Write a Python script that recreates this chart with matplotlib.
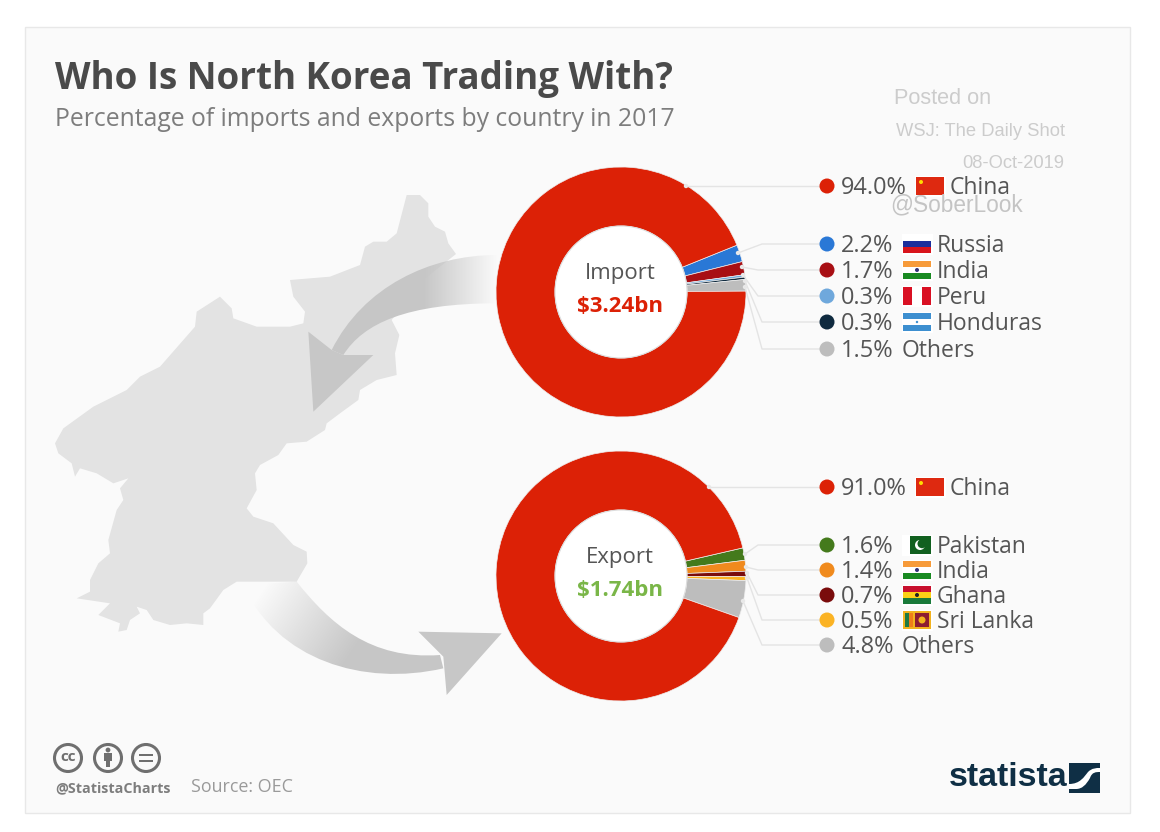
import numpy as np
import matplotlib
matplotlib.use('Agg')
import matplotlib.pyplot as plt
from matplotlib.patches import Rectangle, Circle, Polygon, PathPatch
from matplotlib.path import Path

W, H = 1160, 832

# data
import_labels = ['Russia', 'India', 'Peru', 'Honduras', 'Others', 'China']
import_values = [2.2, 1.7, 0.3, 0.3, 1.5, 94.0]
import_colors = ['#2a78d6', '#a80f14', '#6fa8dc', '#0f2a3f', '#bdbdbd', '#dc2106']
export_labels = ['Pakistan', 'India', 'Ghana', 'Sri Lanka', 'Others', 'China']
export_values = [1.6, 1.4, 0.7, 0.5, 4.8, 91.0]
export_colors = ['#447a1c', '#f08a1d', '#7a0c0c', '#fbb324', '#bdbdbd', '#dc2106']

# legend rows, top to bottom
import_rows = ['China', 'Russia', 'India', 'Peru', 'Honduras', 'Others']
export_rows = ['China', 'Pakistan', 'India', 'Ghana', 'Sri Lanka', 'Others']
import_row_y = [186, 244, 270, 296, 322, 349]
export_row_y = [487, 545, 570, 595, 620, 645]
# where the leader lines leave the ring and where they bend
import_leads = [(686, 186, 686), (738, 253, 762), (742, 267, 758), (743, 275, 758), (745, 281, 762), (745, 287, 762)]
export_leads = [(709, 487, 709), (745, 554, 758), (746, 567, 758), (747, 573, 758), (747, 578, 762), (743, 601, 762)]

# map outline, in pixels of the zoomed crop (3x, offset 30,180)
map_outline = [(1130,45),(1170,45),(1195,70),(1195,110),(1215,140),(1245,155),(1255,190),(1278,222),
    (1180,300),(1085,420),(1108,465),(1095,520),(1100,585),(1040,600),(990,630),(985,660),(930,700),
    (890,730),(885,750),(830,785),(770,790),(745,825),(690,855),(675,880),(680,930),(650,985),(670,1010),
    (730,1030),(790,1095),(830,1115),(832,1150),(800,1205),(620,1205),(580,1230),(540,1285),(520,1300),
    (520,1335),(470,1330),(420,1335),(370,1320),(350,1290),(320,1280),(330,1300),(300,1320),(290,1350),
    (265,1355),(270,1330),(205,1305),(240,1270),(140,1255),(180,1235),(180,1200),(205,1150),(240,1120),
    (235,1080),(260,990),(280,960),(270,925),(295,895),(250,910),(200,880),(150,865),(135,890),(125,850),
    (85,820),(75,790),(100,745),(190,680),(290,630),(330,590),(390,560),(495,440),(500,395),(570,350),
    (605,385),(610,415),(680,440),(780,440),(820,430),(825,395),(790,350),(780,300),(900,290),(990,255),
    (1005,200),(1030,185),(1070,185),(1100,160)]

plt.rcParams['font.family'] = ['Open Sans', 'DejaVu Sans']

TEXT = '#555555'
BG = '#fafafa'
MAPC = '#e3e3e3'
ARROW = (0.78, 0.78, 0.78)

fig = plt.figure(figsize=(W / 100, H / 100), dpi=100, facecolor='white')


def pixel_axes(z):
    a = fig.add_axes([0, 0, 1, 1], zorder=z)
    a.set_xlim(0, W)
    a.set_ylim(H, 0)
    a.axis('off')
    a.patch.set_alpha(0)
    return a


def zoomed(pts):
    return [(x / 3 + 30, y / 3 + 180) for x, y in pts]


def gradient_shape(ax, path, p0, p1):
    """grey fill that fades in from p0 to p1, clipped to path"""
    xs, ys = np.meshgrid(np.arange(0, W), np.arange(0, H))
    d = np.array(p1) - np.array(p0)
    t = ((xs - p0[0]) * d[0] + (ys - p0[1]) * d[1]) / (d ** 2).sum()
    rgba = np.zeros((H, W, 4))
    rgba[..., 0], rgba[..., 1], rgba[..., 2] = ARROW
    rgba[..., 3] = np.clip(t, 0, 1)
    im = ax.imshow(rgba, extent=(0, W, H, 0), aspect='auto', zorder=3)
    patch = PathPatch(path, transform=ax.transData, fc='none', ec='none')
    ax.add_patch(patch)
    im.set_clip_path(patch)
    ax.set_xlim(0, W)
    ax.set_ylim(H, 0)


def bent_arrow(a, b, c, d, e, f, g, h):
    pts = zoomed([a, b, c, d, e, f, g, h])
    codes = [Path.MOVETO, Path.CURVE4, Path.CURVE4, Path.CURVE4, Path.LINETO, Path.CURVE4, Path.CURVE4, Path.CURVE4]
    return Path(pts + [pts[0]], codes + [Path.CLOSEPOLY])


bg = pixel_axes(0)
bg.add_patch(Rectangle((25, 27), 1105, 786, fc=BG, ec='#e8e8e8', lw=1))
bg.add_patch(Polygon(zoomed(map_outline), closed=True, fc=MAPC, ec='none', zorder=2))

# import arrow, fades out towards the ring
p1 = bent_arrow((1400, 225), (1200, 225), (1000, 320), (905, 510), (940, 525), (1000, 430), (1130, 370), (1400, 370))
head1 = zoomed([(835, 455), (905, 510), (940, 525), (1030, 525), (850, 695)])
gradient_shape(bg, p1, (30 + 1400 / 3, 0), (30 + 1180 / 3, 0))
bg.add_patch(Polygon(head1, closed=True, fc=ARROW, ec='none', zorder=3))

# export arrow, fades in from the map
p2 = bent_arrow((800, 1205), (900, 1330), (1020, 1440), (1230, 1425), (1240, 1465), (1000, 1520), (740, 1440),
                (640, 1215))
gradient_shape(bg, p2, (30 + 690 / 3, 180 + 1240 / 3), (30 + 960 / 3, 180 + 1420 / 3))
head2 = zoomed([(1165, 1355), (1415, 1360), (1250, 1545), (1240, 1430)])
bg.add_patch(Polygon(head2, closed=True, fc=ARROW, ec='none', zorder=3))


def donut(cx, cy, values, colors, start):
    r = 125
    a = fig.add_axes([(cx - r) / W, 1 - (cy + r) / H, 2 * r / W, 2 * r / H], zorder=1)
    a.pie(values, colors=colors, startangle=start, counterclock=False, radius=1,
          wedgeprops=dict(width=1 - 66 / 125, edgecolor='#eeeeee', linewidth=0.5))
    a.add_patch(Circle((0, 0), 66 / 125, fc='white', ec='#dddddd', lw=0.8))
    a.set_xlim(-1, 1)
    a.set_ylim(-1, 1)


donut(621, 292, import_values, import_colors, 22)
donut(621, 576, export_values, export_colors, 13)

fg = pixel_axes(2)


def rect(x, y, w, h, c, **kw):
    fg.add_patch(Rectangle((x, y), w, h, fc=c, ec='none', **kw))


def flag(name, x, y):
    w, h = 28, 18
    t = y - h / 2
    rect(x - 1.5, t - 1.5, w + 3, h + 3, '#ffffff')
    if name == 'China':
        rect(x, t, w, h, '#de2910')
        fg.add_patch(Circle((x + 5, t + 5), 2, fc='#ffde00', ec='none'))
    elif name == 'Russia':
        for i, c in enumerate(['#ffffff', '#1c2f9c', '#d8141c']):
            rect(x, t + i * h / 3, w, h / 3, c)
    elif name == 'India':
        for i, c in enumerate(['#f79b3a', '#ffffff', '#198a22']):
            rect(x, t + i * h / 3, w, h / 3, c)
        fg.add_patch(Circle((x + w / 2, y), 2, fc='#333377', ec='none'))
    elif name == 'Peru':
        for i, c in enumerate(['#d91023', '#ffffff', '#d91023']):
            rect(x + i * w / 3, t, w / 3, h, c)
    elif name == 'Honduras':
        for i, c in enumerate(['#3d8fd0', '#ffffff', '#3d8fd0']):
            rect(x, t + i * h / 3, w, h / 3, c)
        fg.add_patch(Circle((x + w / 2, y), 1.2, fc='#3d8fd0', ec='none'))
    elif name == 'Pakistan':
        rect(x + 7, t, w - 7, h, '#11601f')
        fg.add_patch(Circle((x + 17, y), 5, fc='white', ec='none'))
        fg.add_patch(Circle((x + 19, y - 1.3), 4.5, fc='#11601f', ec='none'))
    elif name == 'Ghana':
        for i, c in enumerate(['#c8102e', '#fcd116', '#1a7a3a']):
            rect(x, t + i * h / 3, w, h / 3, c)
        fg.add_patch(Circle((x + w / 2, y), 2, fc='#222222', ec='none'))
    elif name == 'Sri Lanka':
        rect(x, t, w, h, '#f2b21e')
        rect(x + 2, t + 2, 4, h - 4, '#1f7a44')
        rect(x + 6, t + 2, 4, h - 4, '#ef7d1a')
        rect(x + 12, t + 2, 14, h - 4, '#8d1b32')
        fg.add_patch(Circle((x + 19, y), 3.5, fc='#f2b21e', ec='none'))


def legend_rows(rows, ys, leads, labels, values, colors):
    for name, y, (lx, ly, bx) in zip(rows, ys, leads):
        i = labels.index(name)
        fg.plot([lx, bx, 820], [ly, y, y], color='#e4e4e4', lw=1, zorder=1)
        fg.add_patch(Circle((lx, ly), 2.2, fc='#e8e8e8', ec='none', zorder=2))
        fg.add_patch(Circle((827, y), 7.5, fc=colors[i], ec='none', zorder=2))
        fg.text(841, y + 2, '%.1f%%' % values[i], fontsize=16.9, color=TEXT, va='center', ha='left')
        fx = 916 if values[i] >= 10 else 903
        if name == 'Others':
            fg.text(902, y + 2, name, fontsize=16.5, color=TEXT, va='center', ha='left')
        else:
            flag(name, fx, y)
            fg.text(fx + 34, y + 2, name, fontsize=16.5, color=TEXT, va='center', ha='left')


legend_rows(import_rows, import_row_y, import_leads, import_labels, import_values, import_colors)
legend_rows(export_rows, export_row_y, export_leads, export_labels, export_values, export_colors)

# titles
fg.text(55, 79, 'Who Is North Korea Trading With?', fontsize=26.5, fontweight='bold', color='#4a4a4a',
        va='center', ha='left')
fg.text(55, 119, 'Percentage of imports and exports by country in 2017', fontsize=17.85, color='#7d7d7d',
        va='center', ha='left')

# ring centres
fg.text(620, 273, 'Import', fontsize=16, color=TEXT, ha='center', va='center')
fg.text(620, 307, '$3.24bn', fontsize=16, fontweight='bold', color='#dc2106', ha='center', va='center')
fg.text(620, 557, 'Export', fontsize=16, color=TEXT, ha='center', va='center')
fg.text(620, 591, '$1.74bn', fontsize=16, fontweight='bold', color='#7ab648', ha='center', va='center')

# pasted-on watermark
wm = ['Liberation Sans', 'DejaVu Sans']
fg.text(894, 99, 'Posted on', fontsize=15.6, family=wm, color='#cccccc', va='center', ha='left')
fg.text(896, 131, 'WSJ: The Daily Shot', fontsize=13.2, family=wm, color='#cccccc', va='center', ha='left')
fg.text(962, 163, '08-Oct-2019', fontsize=13.2, family=wm, color='#cccccc', va='center', ha='left')
fg.text(890, 205, '@SoberLook', fontsize=16.3, family=wm, color='#c4c4c4', va='center', ha='left')

# cc icons
for cx in [68, 108, 146]:
    fg.add_patch(Circle((cx, 758), 13.5, fc='none', ec='#6f6f6f', lw=2.2))
fg.text(68, 757, 'cc', fontsize=11, fontweight='bold', color='#6f6f6f', ha='center', va='center')
fg.add_patch(Circle((108, 750), 2.4, fc='#6f6f6f', ec='none'))
rect(104, 753, 8, 8, '#6f6f6f')
rect(106, 760, 4, 7, '#6f6f6f')
rect(139, 753.5, 14, 2.5, '#6f6f6f')
rect(139, 759.5, 14, 2.5, '#6f6f6f')
fg.text(55, 788, '@StatistaCharts', fontsize=10.3, fontweight='bold', color='#7d7d7d', va='center', ha='left')
fg.text(191, 787.5, 'Source: OEC', fontsize=12.9, color='#9a9a9a', va='center', ha='left')

# statista logo
fg.text(949, 778, 'statista', fontsize=24.5, fontweight='bold', family=['Liberation Sans', 'DejaVu Sans'],
        color='#0f2f45', va='center', ha='left')
rect(1069, 763, 31, 30, '#0f2f45')
swoosh = Path([(1069, 784), (1080, 784), (1084, 777), (1088, 772), (1092, 768), (1096, 768), (1100, 768),
               (1100, 772), (1096, 772), (1092, 772), (1090, 778), (1086, 785), (1082, 789), (1076, 789), (1069, 789),
               (1069, 784)],
              [Path.MOVETO, Path.CURVE4, Path.CURVE4, Path.CURVE4, Path.CURVE4, Path.CURVE4, Path.LINETO,
               Path.LINETO, Path.CURVE4, Path.CURVE4, Path.CURVE4, Path.CURVE4, Path.CURVE4, Path.CURVE4, Path.LINETO,
               Path.CLOSEPOLY])
fg.add_patch(PathPatch(swoosh, fc='white', ec='none'))

fig.savefig('out.png', dpi=100)
